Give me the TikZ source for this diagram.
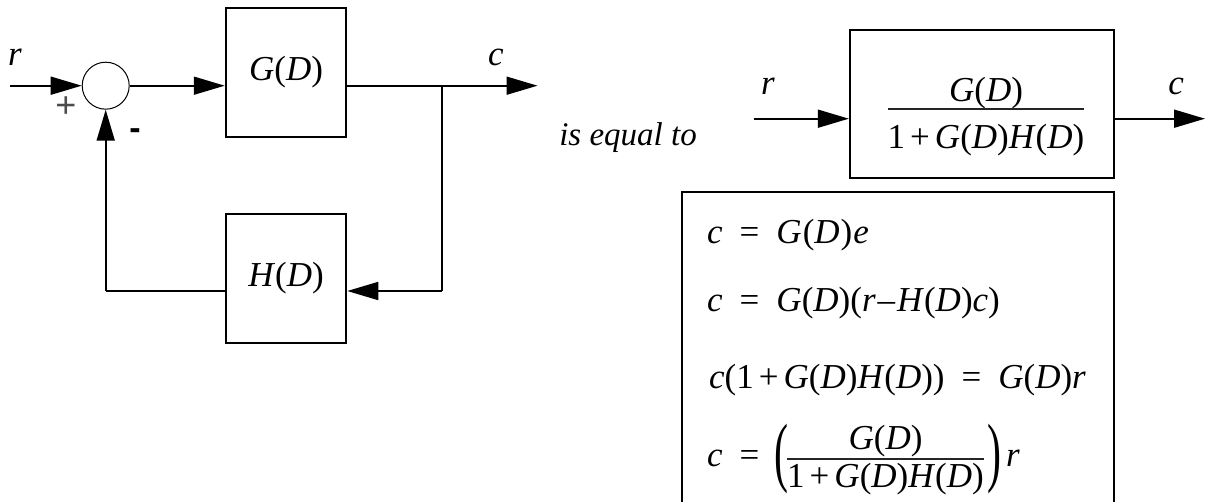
\documentclass[tikz,border=0pt]{standalone}
\usepackage{fontspec}
\setmainfont{Liberation Serif}
\setsansfont{Liberation Sans}
\usepackage{graphicx}
\usetikzlibrary{arrows.meta}
\newcommand\myL{\textup{(}}
\newcommand\myR{\textup{)}}
\newcommand\GD{G\myL D\myR}
\newcommand\HD{H\myL D\myR}
\newcommand\eqs{\hspace{17pt}\textup{=}\hspace{17pt}}
\newcommand\plus{\hspace{5pt}\textup{+}\hspace{5pt}}
\begin{document}
\begin{tikzpicture}[x=1pt,y=-1pt,
  font=\fontsize{35}{40}\selectfont\itshape,
  blk/.style={draw, line width=1.8pt, inner sep=0pt},
  wire/.style={line width=1.7pt},
  sig/.style={line width=1.7pt, -{Triangle[length=31pt,width=18pt]}},
  lbl/.style={inner sep=0pt},
  sgn/.style={inner sep=0pt, font=\fontsize{36}{40}\selectfont\sffamily},
  eq/.style={inner sep=0pt, anchor=base west}]
\useasboundingbox (0,0) rectangle (1206,502);

% ---------- left diagram ----------
\node[draw, circle, minimum size=47pt, inner sep=0pt, line width=1pt] (sum) at (105.7,85.7) {};
\node[blk, minimum width=120.7pt, minimum height=129pt] (G) at (286,72.3) {\GD};
\node[blk, minimum width=120.7pt, minimum height=129pt] (H) at (286,278.5) {\HD};
\coordinate (in) at (10,85.7);
\coordinate (out) at (537.5,85.7);
\coordinate (br) at (442,85.7);
\coordinate (brd) at (442,291);
\coordinate (fbl) at (105.7,291);

\draw[sig] (in) -- (sum.west);
\draw[sig] (sum.east) -- (sum.east -| G.west);
\draw[sig] (sum.east -| G.east) -- (out);
\draw[wire] (br) -- (brd);
\draw[sig] (brd) -- (brd -| H.east);
\draw[wire] (H.west |- fbl) -- (fbl);
\draw[sig] (fbl) -- (sum.south);

\node[lbl] (rl) at (15,57) {r};
\node[lbl] (cl) at (496,57) {c};
\node[sgn, text=black!70] (plus) at (66,107) {+};
\node[sgn, font=\fontsize{34}{38}\selectfont\sffamily\bfseries] (minus) at (135,134) {-};

% ---------- is equal to ----------
\node[lbl, font=\fontsize{33}{38}\selectfont\itshape] (iseq) at (628,138) {is equal to};

% ---------- equivalent block ----------
\node[draw, line width=1.8pt, minimum width=264.5pt, minimum height=148.3pt, inner sep=0pt] (B) at (982,103.9) {};
\coordinate (bin) at (753.7,118.7);
\coordinate (bout) at (1205,118.7);
\draw[sig] (bin) -- (bin -| B.west);
\draw[sig] (bout -| B.east) -- (bout);
\node[lbl] (r2) at (768,86.5) {r};
\node[lbl] (c2) at (1176,86.5) {c};
\node[lbl] (bnum) at (986,92.7) {\GD};
\node[lbl] (bden) at (986,140) {\textup{1}\plus\GD\HD};
\draw[line width=1.6pt, black!85] (bden.west |- 0,109) -- (bden.east |- 0,109);

% ---------- equations ----------
\draw[line width=1.8pt] (682,504) -- (682,192) -- (1114,192) -- (1114,504);
\node[eq] (e1) at (707,244) {c\eqs G\hspace{1pt}\myL D\hspace{1pt}\myR\hspace{1pt}e};
\node[eq] (e2) at (707,311) {c\eqs\GD\myL r\hspace{2pt}\textup{--}\hspace{2pt}\HD c\myR};
\node[eq] (e3) at (709,388.6) {c\myL\textup{1}\plus\GD\HD\myR\eqs\GD r};
\node[eq] (e4) at (707,466) {c\eqs};
\node[lbl] (lp) at (781,459) {\scalebox{1.2}[2.2]{\textup{(}}};
\node[lbl] (fnum) at (885.5,441) {\GD};
\node[lbl] (fden) at (885.5,479) {\textup{1}\plus\GD\HD};
\draw[line width=1.6pt, black!85] (fden.west |- 0,459) -- (fden.east |- 0,459);
\node[lbl] (rp) at (994,459) {\scalebox{1.2}[2.2]{\textup{)}}};
\node[eq] (rr) at (1006,466) {r};
\end{tikzpicture}
\end{document}
